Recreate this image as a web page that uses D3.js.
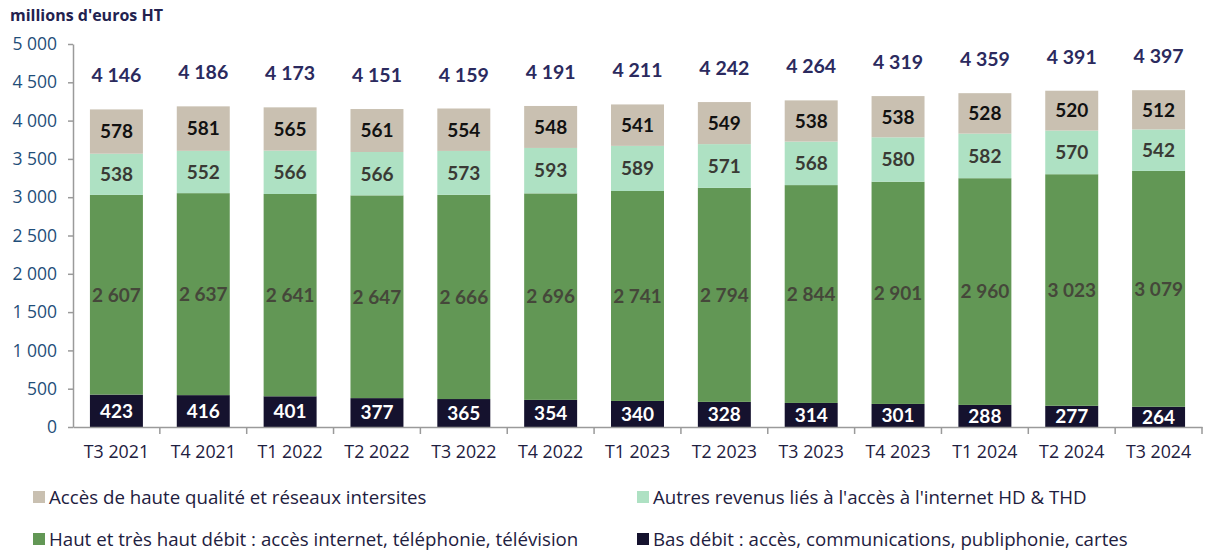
<!DOCTYPE html>
<html>
<head>
<meta charset="utf-8">
<script src="https://cdn.jsdelivr.net/npm/d3@7"></script>
<style>
  body { margin: 0; background: #fff; }
  svg { font-family: "Open Sans", Lato, sans-serif; }
</style>
</head>
<body>
<svg id="chart" width="1208" height="554"></svg>
<script>
var quarters = ["T3 2021","T4 2021","T1 2022","T2 2022","T3 2022","T4 2022","T1 2023","T2 2023","T3 2023","T4 2023","T1 2024","T2 2024","T3 2024"];
var basDebit = [423,416,401,377,365,354,340,328,314,301,288,277,264];
var hautDebit = [2607,2637,2641,2647,2666,2696,2741,2794,2844,2901,2960,3023,3079];
var autresRevenus = [538,552,566,566,573,593,589,571,568,580,582,570,542];
var hauteQualite = [578,581,565,561,554,548,541,549,538,538,528,520,512];
// totals as printed (rounded at source)
var totals = [4146,4186,4173,4151,4159,4191,4211,4242,4264,4319,4359,4391,4397];
var yTicks = [0,500,1000,1500,2000,2500,3000,3500,4000,4500,5000];

var series = [
  {key: "bas", name: "Bas débit : accès, communications, publiphonie, cartes", values: basDebit, color: "#15122e", text: "#ffffff"},
  {key: "haut", name: "Haut et très haut débit : accès internet, téléphonie, télévision", values: hautDebit, color: "#629755", text: "#45473a"},
  {key: "autres", name: "Autres revenus liés à l'accès à l'internet HD & THD", values: autresRevenus, color: "#aee1c3", text: "#3a3a35"},
  {key: "hq", name: "Accès de haute qualité et réseaux intersites", values: hauteQualite, color: "#c9c0b1", text: "#111111"}
];

var fmt = function(v) { return d3.format(",")(v).replace(/,/g, " "); };

var rows = quarters.map(function(q, i) {
  var r = {q: q, total: totals[i]};
  series.forEach(function(s) { r[s.key] = s.values[i]; });
  return r;
});

var svg = d3.select("#chart"),
    margin = {top: 44, left: 73, right: 6, bottom: 127},
    width = 1208 - margin.left - margin.right,
    height = 554 - margin.top - margin.bottom;

var g = svg.append("g").attr("transform", "translate(" + margin.left + "," + margin.top + ")");

var x = d3.scaleBand().domain(quarters).range([0, width]).paddingInner(0.39).paddingOuter(0.195);
var xb = d3.scaleBand().domain(quarters).range([0, width]);
var y = d3.scaleLinear().domain([0, 5000]).range([height, 0]);

var stack = d3.stack().keys(series.map(function(s) { return s.key; }));
var layers = stack(rows);

// bars
layers.forEach(function(layer, li) {
  var s = series[li];
  var lg = g.append("g");
  lg.selectAll("rect").data(layer).enter().append("rect")
    .attr("x", function(d) { return x(d.data.q); })
    .attr("y", function(d) { return y(d[1]); })
    .attr("width", x.bandwidth())
    .attr("height", function(d) { return y(d[0]) - y(d[1]); })
    .attr("fill", s.color);
  lg.selectAll("text").data(layer).enter().append("text")
    .attr("x", function(d) { return x(d.data.q) + x.bandwidth() / 2; })
    .attr("y", function(d) { return (y(d[0]) + y(d[1])) / 2; })
    .attr("dy", "0.36em")
    .attr("text-anchor", "middle")
    .attr("font-family", "Lato, sans-serif")
    .attr("font-size", "19px")
    .attr("font-weight", "bold")
    .attr("fill", s.text)
    .text(function(d) { return fmt(d.data[s.key]); });
});

// totals
var topLayer = layers[layers.length - 1];
g.append("g").selectAll("text").data(topLayer).enter().append("text")
  .attr("x", function(d) { return x(d.data.q) + x.bandwidth() / 2; })
  .attr("y", function(d) { return y(d[1]) - 34; })
  .attr("dy", "0.36em")
  .attr("text-anchor", "middle")
  .attr("font-family", "Lato, sans-serif")
  .attr("font-size", "19.5px")
  .attr("font-weight", "bold")
  .attr("fill", "#2b2a5e")
  .text(function(d) { return fmt(d.data.total); });

// y axis
var yAxis = g.append("g")
  .call(d3.axisLeft(y).tickValues(yTicks).tickSize(5).tickSizeOuter(0).tickFormat(fmt));
yAxis.select(".domain").attr("stroke", "#9a9a9a").attr("stroke-width", 1.5);
yAxis.selectAll(".tick line").attr("stroke", "#9a9a9a").attr("stroke-width", 1.5);
yAxis.selectAll(".tick text").attr("x", -16).attr("font-size", "17.5px").attr("fill", "#1f4e79").attr("font-family", "'Open Sans', sans-serif");

// x axis
var xAxis = g.append("g").attr("transform", "translate(0," + height + ")")
  .call(d3.axisBottom(x).tickSize(0).tickSizeOuter(0));
xAxis.select(".domain").attr("stroke", "#9a9a9a").attr("stroke-width", 1.5);
xAxis.selectAll(".tick text").attr("y", 18).attr("dy", "0.71em").attr("font-size", "17.8px").attr("fill", "#1e2040").attr("font-family", "'Open Sans', sans-serif");
xAxis.append("g").selectAll("line").data(quarters).enter().append("line")
  .attr("x1", function(d) { return xb(d) + xb.bandwidth(); })
  .attr("x2", function(d) { return xb(d) + xb.bandwidth(); })
  .attr("y1", 0).attr("y2", 7)
  .attr("stroke", "#9a9a9a").attr("stroke-width", 1.5);

// axis title
svg.append("text")
  .attr("x", 10).attr("y", 21)
  .attr("font-size", "16px").attr("font-weight", "bold").attr("fill", "#23224f")
  .text("millions d'euros HT");

// legend
var legendItems = [
  {s: series[3], x: 33, y: 497},
  {s: series[2], x: 637, y: 497},
  {s: series[1], x: 33, y: 539},
  {s: series[0], x: 637, y: 539}
];
var leg = svg.append("g").selectAll("g").data(legendItems).enter().append("g")
  .attr("transform", function(d) { return "translate(" + d.x + "," + d.y + ")"; });
leg.append("rect").attr("x", 0).attr("y", -6).attr("width", 12).attr("height", 12)
  .attr("fill", function(d) { return d.s.color; });
leg.append("text").attr("x", 16).attr("dy", "0.36em")
  .attr("font-size", "18.7px").attr("fill", "#1e2040")
  .text(function(d) { return d.s.name; });
</script>
</body>
</html>
